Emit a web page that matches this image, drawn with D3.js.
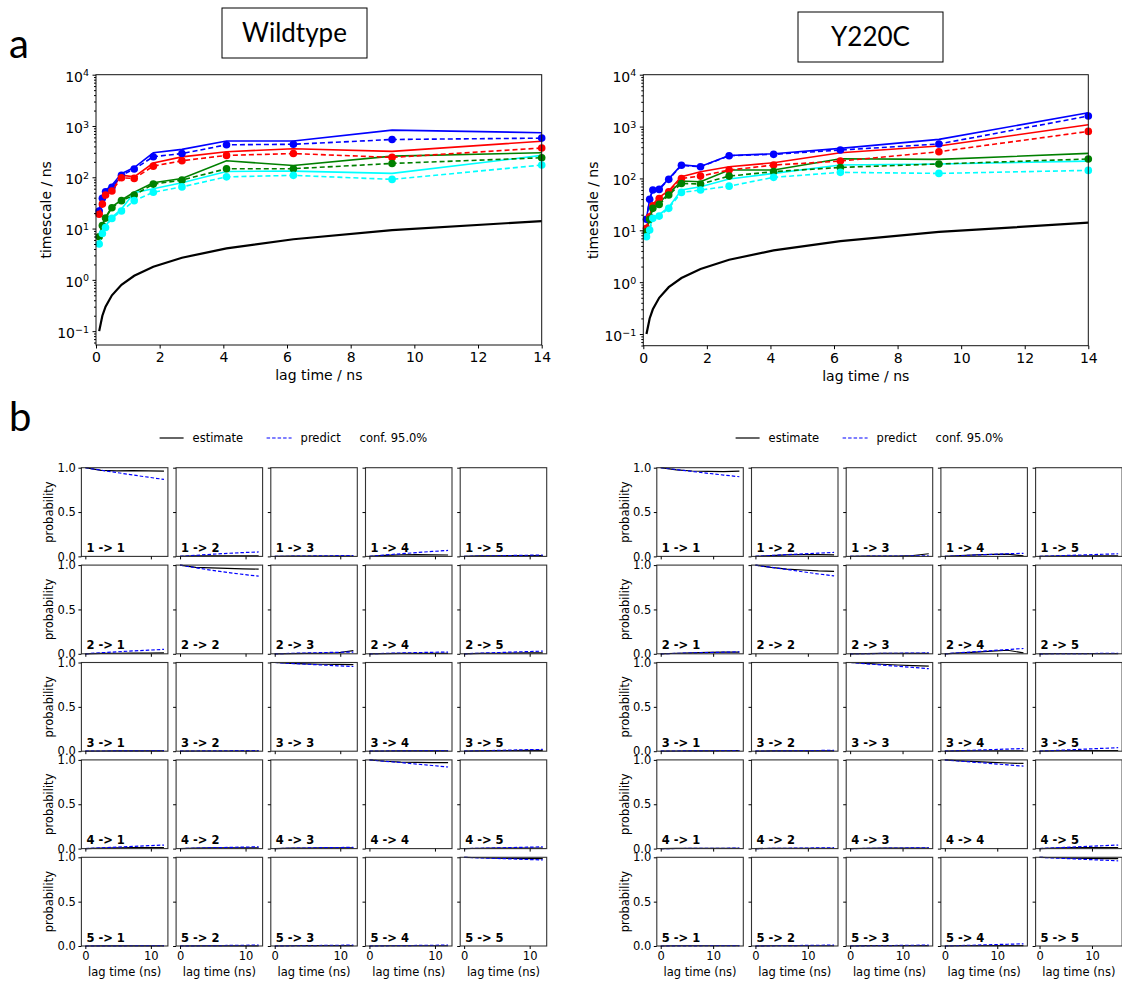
<!DOCTYPE html>
<html>
<head>
<meta charset="utf-8">
<script src="https://cdn.jsdelivr.net/npm/d3@7"></script>
<style>
  body { margin: 0; background: #fff; }
  svg { display: block; }
</style>
</head>
<body>
<svg id="fig" width="1122" height="984"></svg>
<script>
// ---------- implied timescales (panel a) ----------
const lagTimes = [0.1, 0.2, 0.3, 0.5, 0.8, 1.2, 1.8, 2.7, 4.1, 6.2, 9.3, 14];
const processColors = ["#0000ff", "#ff0000", "#008000", "#00ffff"];

// Wildtype: solid = sample mean, dashed with markers = maximum likelihood
const wtBlueSolid   = [24, 42, 56, 70, 118, 155, 300, 350, 510, 510, 830, 740];
const wtBlueDashed  = [22, 39, 52, 64, 109, 145, 252, 290, 430, 440, 545, 580];
const wtRedSolid    = [20, 32, 48, 58, 110, 102, 190, 250, 315, 360, 320, 505];
const wtRedDashed   = [19, 30, 45, 54, 98, 95, 165, 210, 267, 290, 244, 372];
const wtGreenSolid  = [7.1, 12, 16.5, 26.5, 36, 51, 78, 95, 210, 170, 258, 300];
const wtGreenDashed = [6.9, 11.5, 16, 25.5, 35, 45, 73.6, 88, 147, 147, 186, 240];
const wtCyanSolid   = [5.2, 8.5, 11.2, 16.5, 24, 50, 60, 78, 130, 132, 119, 267];
const wtCyanDashed  = [5, 8, 10.5, 15.8, 22, 35, 51, 65, 102, 109, 91, 173];

// Y220C
const mtBlueSolid   = [17, 40, 62, 63, 98, 182, 170, 276, 300, 380, 566, 1849];
const mtBlueDashed  = [16.3, 39.5, 60, 61.5, 96, 179, 168, 274, 291, 353, 461, 1596];
const mtRedSolid    = [11.5, 19.5, 31.5, 43, 58, 108, 135, 168, 201, 313, 422, 1086];
const mtRedDashed   = [10.9, 18.3, 29.8, 41, 55.5, 100, 111, 145, 181, 216, 327, 807];
const mtGreenSolid  = [9.8, 17, 28, 34, 51, 89, 86.5, 145, 145, 240, 233, 304];
const mtGreenDashed = [9.4, 16.3, 26.5, 31.6, 47.9, 80, 78, 111, 135, 163, 190, 237];
const mtCyanSolid   = [7.8, 11, 18, 20, 28, 60, 69, 97.5, 125, 181, 190, 216];
const mtCyanDashed  = [7.5, 10.1, 17, 18.8, 26.5, 53.8, 59.7, 71, 105, 131, 125, 143];

const timescaleXTicks = [0, 2, 4, 6, 8, 10, 12, 14];
const timescaleYTicks = [0.1, 1, 10, 100, 1000, 10000];

// ---------- Chapman-Kolmogorov test (panel b) ----------
const ckStates = [1, 2, 3, 4, 5];
const ckProbTicks = [0, 0.5, 1];
const ckLagTicks = [0, 10];
const wtCkLags = [0, 2.4, 4.8, 7.2, 9.6, 12];
const mtCkLags = [0, 3, 6, 9, 12, 15];

// rows are "i -> j" in reading order (1->1, 1->2, ..., 5->5)
const wtCkEstimate = [
  [1, 0.97, 0.965, 0.968, 0.965, 0.962],
  [0, 0.006, 0.006, 0.006, 0.005, 0.005],
  [0, 0.002, 0.002, 0.003, 0.003, 0.004],
  [0, 0.012, 0.018, 0.02, 0.018, 0.016],
  [0, 0.005, 0.006, 0.008, 0.01, 0.01],
  [0, 0.004, 0.006, 0.008, 0.008, 0.01],
  [1, 0.975, 0.968, 0.963, 0.958, 0.955],
  [0, 0.003, 0.004, 0.006, 0.012, 0.035],
  [0, 0.003, 0.004, 0.005, 0.005, 0.005],
  [0, 0.004, 0.006, 0.008, 0.01, 0.01],
  [0, 0.002, 0.003, 0.003, 0.003, 0.003],
  [0, 0.002, 0.002, 0.002, 0.002, 0.002],
  [1, 0.99, 0.985, 0.98, 0.978, 0.977],
  [0, 0.002, 0.003, 0.003, 0.003, 0.003],
  [0, 0.004, 0.006, 0.008, 0.01, 0.01],
  [0, 0.005, 0.008, 0.01, 0.01, 0.01],
  [0, 0.005, 0.008, 0.008, 0.008, 0.008],
  [0, 0.005, 0.006, 0.008, 0.008, 0.008],
  [1, 0.985, 0.975, 0.972, 0.97, 0.97],
  [0, 0.004, 0.005, 0.006, 0.006, 0.006],
  [0, 0.002, 0.002, 0.002, 0.002, 0.002],
  [0, 0.002, 0.002, 0.002, 0.002, 0.002],
  [0, 0.003, 0.004, 0.004, 0.004, 0.004],
  [0, 0.003, 0.003, 0.003, 0.003, 0.003],
  [1, 0.995, 0.99, 0.988, 0.986, 0.985]
];
const wtCkPredict = [
  [1, 0.972, 0.945, 0.918, 0.893, 0.868],
  [0, 0.012, 0.024, 0.034, 0.043, 0.05],
  [0, 0.002, 0.004, 0.006, 0.008, 0.01],
  [0, 0.016, 0.03, 0.043, 0.056, 0.067],
  [0, 0.004, 0.007, 0.01, 0.013, 0.015],
  [0, 0.012, 0.022, 0.032, 0.041, 0.05],
  [1, 0.97, 0.942, 0.918, 0.895, 0.875],
  [0, 0.005, 0.009, 0.013, 0.017, 0.02],
  [0, 0.005, 0.009, 0.013, 0.017, 0.02],
  [0, 0.007, 0.013, 0.019, 0.025, 0.03],
  [0, 0.002, 0.003, 0.004, 0.005, 0.006],
  [0, 0.002, 0.004, 0.005, 0.006, 0.007],
  [1, 0.99, 0.981, 0.972, 0.963, 0.955],
  [0, 0.002, 0.004, 0.005, 0.006, 0.007],
  [0, 0.005, 0.009, 0.013, 0.017, 0.02],
  [0, 0.008, 0.017, 0.025, 0.033, 0.04],
  [0, 0.005, 0.009, 0.013, 0.017, 0.02],
  [0, 0.004, 0.007, 0.01, 0.012, 0.014],
  [1, 0.985, 0.97, 0.953, 0.937, 0.92],
  [0, 0.004, 0.008, 0.012, 0.016, 0.02],
  [0, 0.001, 0.002, 0.003, 0.004, 0.005],
  [0, 0.002, 0.004, 0.006, 0.008, 0.01],
  [0, 0.002, 0.004, 0.006, 0.008, 0.01],
  [0, 0.002, 0.004, 0.006, 0.008, 0.01],
  [1, 0.994, 0.988, 0.982, 0.976, 0.97]
];
const mtCkEstimate = [
  [1, 0.975, 0.963, 0.958, 0.955, 0.962],
  [0, 0.008, 0.018, 0.02, 0.02, 0.018],
  [0, 0.003, 0.003, 0.004, 0.01, 0.03],
  [0, 0.01, 0.018, 0.022, 0.025, 0.005],
  [0, 0.004, 0.005, 0.005, 0.006, 0.006],
  [0, 0.006, 0.01, 0.015, 0.02, 0.02],
  [1, 0.975, 0.955, 0.945, 0.935, 0.93],
  [0, 0.003, 0.004, 0.004, 0.004, 0.004],
  [0, 0.01, 0.02, 0.03, 0.04, 0.01],
  [0, 0.003, 0.003, 0.003, 0.003, 0.003],
  [0, 0.002, 0.003, 0.004, 0.005, 0.006],
  [0, 0.003, 0.004, 0.004, 0.004, 0.004],
  [1, 0.99, 0.98, 0.972, 0.965, 0.96],
  [0, 0.004, 0.005, 0.005, 0.005, 0.005],
  [0, 0.005, 0.008, 0.008, 0.008, 0.008],
  [0, 0.003, 0.003, 0.003, 0.003, 0.003],
  [0, 0.003, 0.004, 0.004, 0.004, 0.004],
  [0, 0.004, 0.005, 0.005, 0.005, 0.005],
  [1, 0.99, 0.98, 0.972, 0.965, 0.96],
  [0, 0.006, 0.01, 0.01, 0.01, 0.01],
  [0, 0.003, 0.003, 0.003, 0.003, 0.003],
  [0, 0.003, 0.003, 0.003, 0.003, 0.003],
  [0, 0.004, 0.005, 0.005, 0.005, 0.005],
  [0, 0.004, 0.005, 0.005, 0.005, 0.005],
  [1, 0.995, 0.99, 0.988, 0.986, 0.985]
];
const mtCkPredict = [
  [1, 0.979, 0.958, 0.937, 0.917, 0.898],
  [0, 0.01, 0.02, 0.028, 0.037, 0.045],
  [0, 0.002, 0.003, 0.004, 0.005, 0.006],
  [0, 0.008, 0.016, 0.023, 0.03, 0.035],
  [0, 0.006, 0.012, 0.018, 0.024, 0.03],
  [0, 0.005, 0.01, 0.014, 0.018, 0.022],
  [1, 0.975, 0.95, 0.925, 0.9, 0.878],
  [0, 0.002, 0.004, 0.006, 0.008, 0.01],
  [0, 0.012, 0.024, 0.036, 0.048, 0.06],
  [0, 0.001, 0.002, 0.003, 0.004, 0.005],
  [0, 0.002, 0.004, 0.005, 0.007, 0.008],
  [0, 0.002, 0.004, 0.006, 0.008, 0.01],
  [1, 0.986, 0.972, 0.958, 0.944, 0.93],
  [0, 0.006, 0.012, 0.018, 0.024, 0.03],
  [0, 0.008, 0.016, 0.024, 0.032, 0.04],
  [0, 0.001, 0.002, 0.003, 0.004, 0.005],
  [0, 0.002, 0.004, 0.006, 0.008, 0.01],
  [0, 0.002, 0.004, 0.006, 0.008, 0.01],
  [1, 0.986, 0.972, 0.958, 0.944, 0.93],
  [0, 0.008, 0.016, 0.024, 0.032, 0.04],
  [0, 0.001, 0.002, 0.003, 0.004, 0.005],
  [0, 0.002, 0.004, 0.006, 0.008, 0.01],
  [0, 0.002, 0.004, 0.006, 0.008, 0.01],
  [0, 0.005, 0.01, 0.015, 0.02, 0.025],
  [1, 0.992, 0.984, 0.976, 0.968, 0.96]
];

// ---------- drawing ----------
const svg = d3.select("#fig");
const MPL = "'DejaVu Sans', sans-serif";
const HEAD = "Lato, 'Open Sans', sans-serif";

function supLabel(sel, exp) {
  sel.text(null);
  sel.append("tspan").text("10");
  sel.append("tspan")
    .attr("font-size", "9.5px")
    .attr("dy", "-0.55em")
    .text(exp < 0 ? "\u2212" + Math.abs(exp) : String(exp));
}

function drawTimescales(cfg) {
  const g = svg.append("g");
  const x = d3.scaleLinear().domain([0, 14]).range([cfg.left, cfg.right]);
  const y = d3.scaleLog().domain([cfg.yMin, 1e4]).range([cfg.bottom, cfg.top]);
  const line = d3.line().x(d => x(d[0])).y(d => y(d[1]));

  // lag time reference line
  g.append("path")
    .datum(lagTimes.map(t => [t, t]))
    .attr("d", line)
    .attr("fill", "none").attr("stroke", "#000").attr("stroke-width", 2.2);

  cfg.series.forEach(s => {
    g.append("path")
      .datum(d3.zip(lagTimes, s.solid))
      .attr("d", line)
      .attr("fill", "none").attr("stroke", s.color).attr("stroke-width", 1.6);
  });
  cfg.series.forEach(s => {
    const pts = d3.zip(lagTimes, s.dashed);
    g.append("path")
      .datum(pts)
      .attr("d", line)
      .attr("fill", "none").attr("stroke", s.color).attr("stroke-width", 1.6)
      .attr("stroke-dasharray", "5,3");
    g.selectAll(null).data(pts).join("circle")
      .attr("cx", d => x(d[0])).attr("cy", d => y(d[1])).attr("r", 3.8)
      .attr("fill", s.color);
  });

  // frame
  g.append("rect")
    .attr("x", cfg.left).attr("y", cfg.top)
    .attr("width", cfg.right - cfg.left).attr("height", cfg.bottom - cfg.top)
    .attr("fill", "none").attr("stroke", "#111").attr("stroke-width", 1);

  // x axis
  const xa = g.append("g").attr("transform", `translate(0,${cfg.bottom})`)
    .call(d3.axisBottom(x).tickValues(timescaleXTicks).tickFormat(d3.format("d"))
      .tickSize(3.5).tickPadding(3.5));
  xa.select(".domain").remove();
  xa.selectAll("text").attr("font-family", MPL).attr("font-size", "14px").attr("fill", "#000");

  // y axis: minor ticks
  const minor = [];
  for (let e = -2; e < 4; e++) for (let m = 2; m <= 9; m++) {
    const v = m * Math.pow(10, e);
    if (v >= cfg.yMin && v <= 1e4) minor.push(v);
  }
  const ym = g.append("g").attr("transform", `translate(${cfg.left},0)`)
    .call(d3.axisLeft(y).tickValues(minor).tickFormat("").tickSize(2));
  ym.select(".domain").remove();

  const ya = g.append("g").attr("transform", `translate(${cfg.left},0)`)
    .call(d3.axisLeft(y).tickValues(timescaleYTicks).tickSize(3.5).tickPadding(3.5));
  ya.select(".domain").remove();
  ya.selectAll("text")
    .attr("font-family", MPL).attr("font-size", "14px").attr("fill", "#000")
    .attr("dy", "0.45em")
    .each(function (d) { supLabel(d3.select(this), Math.round(Math.log10(d))); });

  svg.append("text")
    .attr("x", (cfg.left + cfg.right) / 2).attr("y", cfg.bottom + 35)
    .attr("text-anchor", "middle")
    .attr("font-family", MPL).attr("font-size", "14px")
    .text("lag time / ns");
  svg.append("text")
    .attr("transform", `translate(${cfg.left - 45},${(cfg.top + cfg.bottom) / 2}) rotate(-90)`)
    .attr("text-anchor", "middle")
    .attr("font-family", MPL).attr("font-size", "14px")
    .text("timescale / ns");

  // title box
  svg.append("rect")
    .attr("x", cfg.box[0]).attr("y", cfg.box[1])
    .attr("width", cfg.box[2]).attr("height", cfg.box[3])
    .attr("fill", "#fff").attr("stroke", "#000").attr("stroke-width", 1);
  svg.append("text")
    .attr("x", cfg.box[0] + cfg.box[2] / 2).attr("y", cfg.box[1] + cfg.box[3] / 2 + 9)
    .attr("text-anchor", "middle")
    .attr("font-family", HEAD).attr("font-size", "26px")
    .text(cfg.title);
}

drawTimescales({
  left: 96, right: 541.7, top: 74.7, bottom: 345, yMin: Math.pow(10, -1.27),
  title: "Wildtype", box: [222, 8, 145, 50],
  series: [
    { color: processColors[0], solid: wtBlueSolid, dashed: wtBlueDashed },
    { color: processColors[1], solid: wtRedSolid, dashed: wtRedDashed },
    { color: processColors[2], solid: wtGreenSolid, dashed: wtGreenDashed },
    { color: processColors[3], solid: wtCyanSolid, dashed: wtCyanDashed }
  ]
});
drawTimescales({
  left: 643.3, right: 1088.3, top: 74.7, bottom: 345.7, yMin: Math.pow(10, -1.225),
  title: "Y220C", box: [798, 12, 145, 50],
  series: [
    { color: processColors[0], solid: mtBlueSolid, dashed: mtBlueDashed },
    { color: processColors[1], solid: mtRedSolid, dashed: mtRedDashed },
    { color: processColors[2], solid: mtGreenSolid, dashed: mtGreenDashed },
    { color: processColors[3], solid: mtCyanSolid, dashed: mtCyanDashed }
  ]
});

// panel letters
svg.append("text").attr("x", 9).attr("y", 58)
  .attr("font-family", HEAD).attr("font-size", "40px").text("a");
svg.append("text").attr("x", 9).attr("y", 431)
  .attr("font-family", HEAD).attr("font-size", "40px").text("b");

function drawCkGrid(cfg) {
  const pw = 86.5, ph = 88.7, dx = 94.7, dy = 97.4;
  const g = svg.append("g");
  const span = cfg.lags[cfg.lags.length - 1] - cfg.lags[0];
  const xDom = [cfg.lags[0] - 0.05 * span, cfg.lags[cfg.lags.length - 1] + 0.05 * span];

  ckStates.forEach((from, r) => {
    ckStates.forEach((to, c) => {
      const idx = r * ckStates.length + c;
      const x0 = cfg.left + c * dx, y0 = cfg.top + r * dy;
      const x = d3.scaleLinear().domain(xDom).range([x0, x0 + pw]);
      const y = d3.scaleLinear().domain([0, 1]).range([y0 + ph, y0]);
      const line = d3.line().x(d => x(d[0])).y(d => y(d[1]));
      const p = g.append("g");

      p.append("path").datum(d3.zip(cfg.lags, cfg.estimate[idx])).attr("d", line)
        .attr("fill", "none").attr("stroke", "#000").attr("stroke-width", 1.2);
      p.append("path").datum(d3.zip(cfg.lags, cfg.predict[idx])).attr("d", line)
        .attr("fill", "none").attr("stroke", "#0000ff").attr("stroke-width", 1.2)
        .attr("stroke-dasharray", "3.5,2");

      p.append("rect").attr("x", x0).attr("y", y0).attr("width", pw).attr("height", ph)
        .attr("fill", "none").attr("stroke", "#333").attr("stroke-width", 1.1);

      const ya = p.append("g").attr("transform", `translate(${x0},0)`)
        .call(d3.axisLeft(y).tickValues(ckProbTicks).tickSize(3).tickPadding(2.5)
          .tickFormat(c === 0 ? d3.format(".1f") : ""));
      ya.select(".domain").remove();
      ya.selectAll("text").attr("font-family", MPL).attr("font-size", "11.5px").attr("fill", "#000");

      const xa = p.append("g").attr("transform", `translate(0,${y0 + ph})`)
        .call(d3.axisBottom(x).tickValues(ckLagTicks).tickSize(3).tickPadding(2.5)
          .tickFormat(r === ckStates.length - 1 ? d3.format("d") : ""));
      xa.select(".domain").remove();
      xa.selectAll("text").attr("font-family", MPL).attr("font-size", "11.5px").attr("fill", "#000");

      p.append("text").attr("x", x0 + 5).attr("y", y0 + ph - 4.5)
        .attr("font-family", MPL).attr("font-size", "11.5px").attr("font-weight", "bold")
        .text(`${from} -> ${to}`);

      if (c === 0) {
        p.append("text")
          .attr("transform", `translate(${x0 - 28},${y0 + ph / 2}) rotate(-90)`)
          .attr("text-anchor", "middle")
          .attr("font-family", MPL).attr("font-size", "11.5px")
          .text("probability");
      }
      if (r === ckStates.length - 1) {
        p.append("text").attr("x", x0 + pw / 2).attr("y", y0 + ph + 30)
          .attr("text-anchor", "middle")
          .attr("font-family", MPL).attr("font-size", "11.5px")
          .text("lag time (ns)");
      }
    });
  });

  // legend
  const L = svg.append("g").attr("font-family", MPL).attr("font-size", "11.5px");
  const lx = cfg.legendX, ly = 438;
  L.append("line").attr("x1", lx).attr("x2", lx + 24).attr("y1", ly).attr("y2", ly)
    .attr("stroke", "#000").attr("stroke-width", 1.2);
  L.append("text").attr("x", lx + 33).attr("y", ly + 4).text("estimate");
  L.append("line").attr("x1", lx + 107).attr("x2", lx + 132).attr("y1", ly).attr("y2", ly)
    .attr("stroke", "#0000ff").attr("stroke-width", 1.2).attr("stroke-dasharray", "3.5,2");
  L.append("text").attr("x", lx + 141).attr("y", ly + 4).text("predict");
  L.append("text").attr("x", lx + 200).attr("y", ly + 4).text("conf. 95.0%");
}

drawCkGrid({ left: 81.4, top: 467.7, lags: wtCkLags, estimate: wtCkEstimate, predict: wtCkPredict, legendX: 159.6 });
drawCkGrid({ left: 656.8, top: 467.7, lags: mtCkLags, estimate: mtCkEstimate, predict: mtCkPredict, legendX: 735.6 });
</script>
</body>
</html>
